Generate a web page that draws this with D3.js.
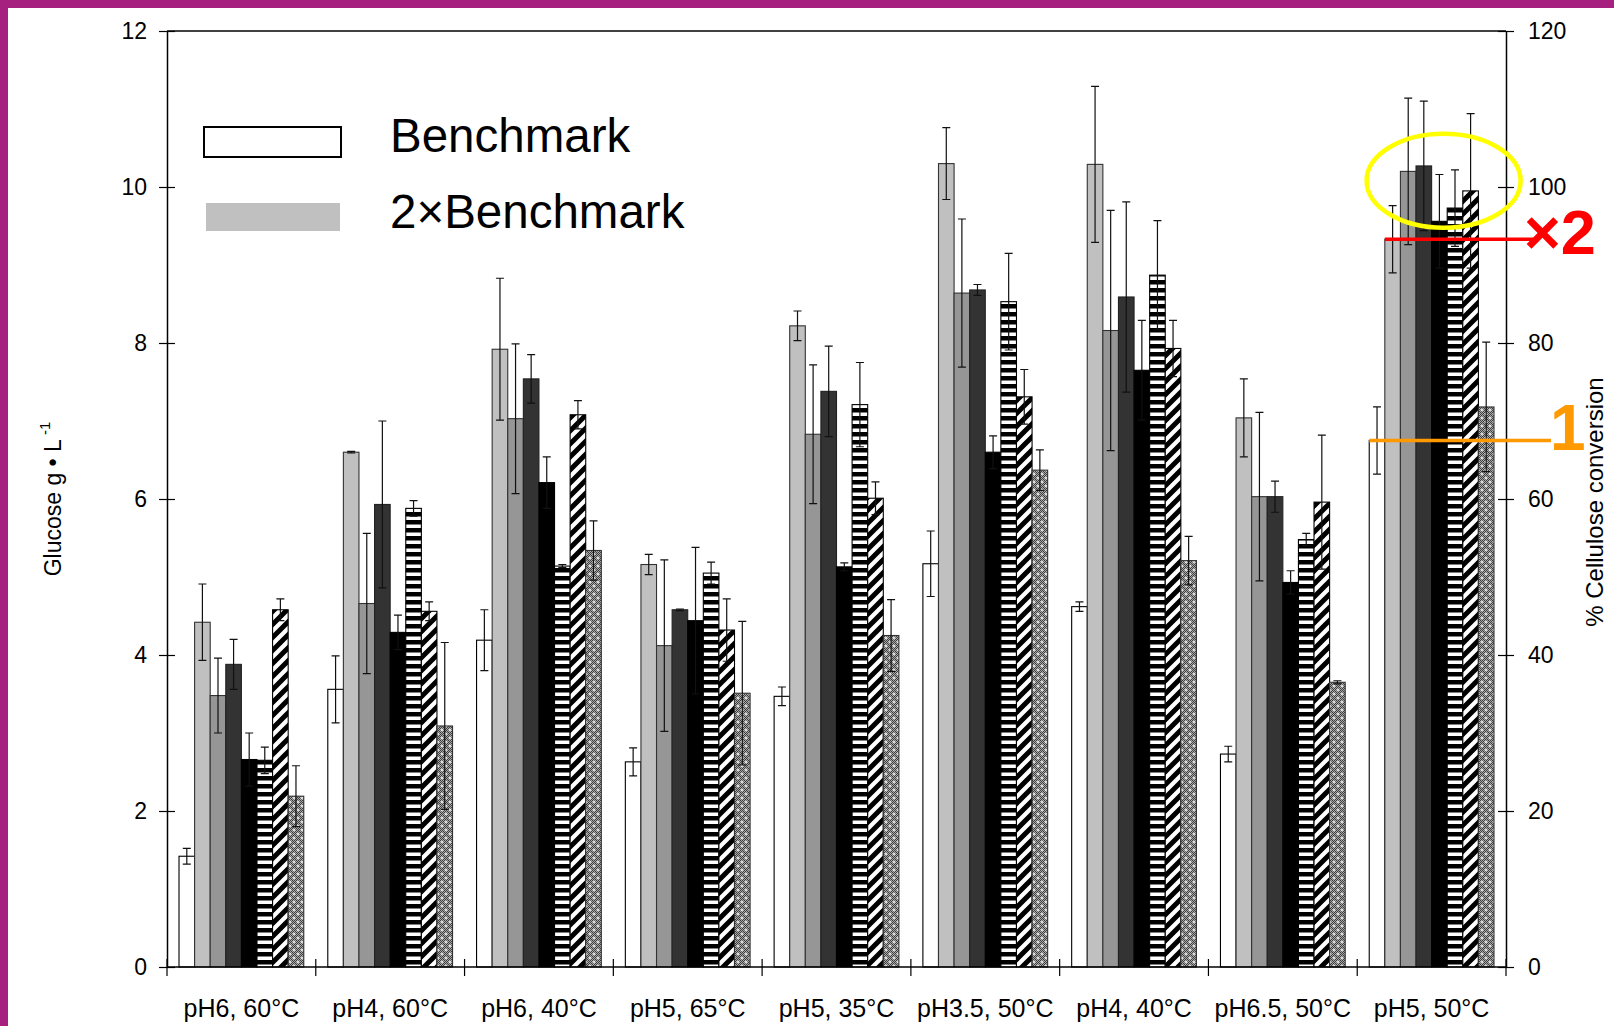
<!DOCTYPE html>
<html>
<head>
<meta charset="utf-8">
<script src="https://cdn.jsdelivr.net/npm/d3@7"></script>
<style>
  body { margin: 0; background: #fff; }
  svg { display: block; }
  text { font-family: "Liberation Sans", Arial, Helvetica, sans-serif; }
</style>
</head>
<body>
<svg id="chart" width="1614" height="1026"></svg>
<script>
// ---- data: glucose (g/L) per enzyme preparation and hydrolysis condition ----
const categories = ["pH6, 60°C", "pH4, 60°C", "pH6, 40°C", "pH5, 65°C", "pH5, 35°C",
                    "pH3.5, 50°C", "pH4, 40°C", "pH6.5, 50°C", "pH5, 50°C"];

const benchmark       = [1.42, 3.56, 4.19, 2.63, 3.47, 5.17, 4.62, 2.73, 6.75];
const benchmarkErr    = [0.10, 0.43, 0.39, 0.18, 0.12, 0.42, 0.06, 0.10, 0.43];
const benchmark2x     = [4.42, 6.60, 7.92, 5.16, 8.22, 10.30, 10.29, 7.04, 9.33];
const benchmark2xErr  = [0.49, 0.01, 0.91, 0.13, 0.19, 0.46, 1.00, 0.50, 0.43];
const mixA            = [3.48, 4.66, 7.03, 4.12, 6.83, 8.64, 8.16, 6.03, 10.20];
const mixAErr         = [0.48, 0.90, 0.96, 1.10, 0.89, 0.95, 1.54, 1.08, 0.94];
const mixB            = [3.88, 5.93, 7.54, 4.58, 7.38, 8.68, 8.59, 6.03, 10.27];
const mixBErr         = [0.32, 1.07, 0.31, 0.01, 0.58, 0.07, 1.22, 0.20, 0.83];
const mixC            = [2.66, 4.29, 6.21, 4.44, 5.13, 6.60, 7.65, 4.93, 9.56];
const mixCErr         = [0.34, 0.22, 0.33, 0.94, 0.05, 0.21, 0.64, 0.15, 0.60];
const mixD            = [2.65, 5.88, 5.14, 5.05, 7.21, 8.53, 8.87, 5.48, 9.73];
const mixDErr         = [0.17, 0.10, 0.02, 0.14, 0.54, 0.62, 0.70, 0.08, 0.49];
const mixE            = [4.58, 4.56, 7.08, 4.32, 6.01, 7.31, 7.93, 5.96, 9.95];
const mixEErr         = [0.14, 0.12, 0.18, 0.40, 0.21, 0.35, 0.36, 0.86, 0.99];
const mixF            = [2.19, 3.09, 5.34, 3.51, 4.25, 6.37, 5.21, 3.65, 7.18];
const mixFErr         = [0.39, 1.07, 0.38, 0.92, 0.46, 0.26, 0.31, 0.02, 0.83];

const glucoseTicks    = [0, 2, 4, 6, 8, 10, 12];
const conversionTicks = [0, 20, 40, 60, 80, 100, 120];
const legendLabels    = ["Benchmark", "2×Benchmark"];

// ---- build series table ----
const seriesValues = [benchmark, benchmark2x, mixA, mixB, mixC, mixD, mixE, mixF];
const seriesErrors = [benchmarkErr, benchmark2xErr, mixAErr, mixBErr, mixCErr, mixDErr, mixEErr, mixFErr];
const seriesFills  = ["#ffffff", "#c0c0c0", "#969696", "#333333", "#000000",
                      "url(#hstripe)", "url(#diag)", "url(#speckle)"];
const seriesStroke = ["#000", "#333", "#333", "#222", "#000", "#000", "#000", "#333"];

const rows = [];
categories.forEach((c, ci) => {
  seriesValues.forEach((vals, si) => {
    rows.push({ cat: c, s: si, v: vals[ci], e: seriesErrors[si][ci] });
  });
});

// ---- geometry ----
const L = 167, R = 1506, T = 31, B = 967;
const svg = d3.select("#chart");

const x0 = d3.scaleBand().domain(categories).range([L, R]).padding(0);
const x1 = d3.scaleBand().domain(d3.range(seriesValues.length))
  .range([0, x0.bandwidth()]).paddingInner(0).paddingOuter(0.77);
const y  = d3.scaleLinear().domain([0, 12]).range([B, T]);
const yR = d3.scaleLinear().domain([0, 120]).range([B, T]);

// ---- fill patterns ----
const defs = svg.append("defs");
const hs = defs.append("pattern").attr("id", "hstripe")
  .attr("patternUnits", "userSpaceOnUse").attr("width", 8).attr("height", 8);
hs.append("rect").attr("width", 8).attr("height", 8).attr("fill", "#fff");
hs.append("rect").attr("y", 0).attr("width", 8).attr("height", 4.5).attr("fill", "#000");

const dg = defs.append("pattern").attr("id", "diag")
  .attr("patternUnits", "userSpaceOnUse").attr("width", 13).attr("height", 13);
dg.append("rect").attr("width", 13).attr("height", 13).attr("fill", "#fff");
dg.append("path").attr("d", "M-3,3 L3,-3 M0,13 L13,0 M10,16 L16,10")
  .attr("stroke", "#000").attr("stroke-width", 5);

const fine = defs.append("pattern").attr("id", "fine")
  .attr("patternUnits", "userSpaceOnUse").attr("width", 2).attr("height", 2);
fine.append("rect").attr("width", 2).attr("height", 2).attr("fill", "#a8a8a8");
fine.append("rect").attr("width", 1).attr("height", 1).attr("fill", "#3c3c3c");
fine.append("rect").attr("x", 1).attr("y", 1).attr("width", 1).attr("height", 1).attr("fill", "#3c3c3c");

const sp = defs.append("pattern").attr("id", "speckle")
  .attr("patternUnits", "userSpaceOnUse").attr("width", 8).attr("height", 8);
sp.append("rect").attr("width", 8).attr("height", 8).attr("fill", "url(#fine)");
[[2, 2], [6, 6]].forEach(([cx, cy]) => {
  sp.append("path").attr("d", `M${cx - 1.5},${cy} h3 M${cx},${cy - 1.5} v3`)
    .attr("stroke", "#fff").attr("stroke-width", 1);
});

// ---- frame border ----
svg.append("rect").attr("x", 0).attr("y", 0).attr("width", 1614).attr("height", 8).attr("fill", "#a6217f");
svg.append("rect").attr("x", 0).attr("y", 0).attr("width", 8).attr("height", 1026).attr("fill", "#a6217f");

// ---- bars ----
const barG = svg.append("g");
barG.selectAll("rect").data(rows).join("rect")
  .attr("x", d => x0(d.cat) + x1(d.s))
  .attr("y", d => y(d.v))
  .attr("width", x1.bandwidth())
  .attr("height", d => y(0) - y(d.v))
  .attr("fill", d => seriesFills[d.s])
  .attr("stroke", d => seriesStroke[d.s])
  .attr("stroke-width", 1.1);

// ---- error bars ----
const cap = 4;
const errG = svg.append("g").attr("stroke", "#111").attr("stroke-width", 1.2).attr("fill", "none");
errG.selectAll("path").data(rows).join("path")
  .attr("d", d => {
    const cx = x0(d.cat) + x1(d.s) + x1.bandwidth() / 2;
    const y1 = y(d.v + d.e), y2 = y(Math.max(0, d.v - d.e));
    return `M${cx},${y1}V${y2}M${cx - cap},${y1}h${2 * cap}M${cx - cap},${y2}h${2 * cap}`;
  });

// ---- axes ----
const fontTick = "23px";
const left = svg.append("g").attr("transform", `translate(${L},0)`)
  .call(d3.axisLeft(y).tickValues(glucoseTicks).tickSizeInner(8).tickSizeOuter(0).tickPadding(12));
left.selectAll(".tick line").attr("x1", 8).attr("stroke-width", 1.2);
left.selectAll(".tick text").attr("font-size", fontTick).attr("font-family", null);
left.select(".domain").attr("stroke-width", 1.5);

const right = svg.append("g").attr("transform", `translate(${R},0)`)
  .call(d3.axisRight(yR).tickValues(conversionTicks).tickSizeInner(8).tickSizeOuter(0).tickPadding(14));
right.selectAll(".tick line").attr("x1", -8).attr("stroke-width", 1.2);
right.selectAll(".tick text").attr("font-size", fontTick).attr("font-family", null);
right.select(".domain").attr("stroke-width", 1.5);

// top and bottom frame lines
svg.append("line").attr("x1", L).attr("x2", R).attr("y1", T).attr("y2", T)
  .attr("stroke", "#000").attr("stroke-width", 1.3);
svg.append("line").attr("x1", L).attr("x2", R).attr("y1", B).attr("y2", B)
  .attr("stroke", "#000").attr("stroke-width", 1.5);

// category boundary ticks
const bounds = categories.map(c => x0(c)).concat([x0.range()[1]]);
svg.append("g").selectAll("line").data(bounds).join("line")
  .attr("x1", d => d).attr("x2", d => d).attr("y1", B - 8).attr("y2", B + 9)
  .attr("stroke", "#000").attr("stroke-width", 1.2);

const bottom = svg.append("g").attr("transform", `translate(0,${B})`)
  .call(d3.axisBottom(x0).tickSize(0).tickPadding(32));
bottom.select(".domain").remove();
bottom.selectAll(".tick text").attr("font-size", "25px").attr("font-family", null);

// axis titles
const yt = svg.append("text").attr("transform", "translate(61,499) rotate(-90)")
  .attr("text-anchor", "middle").attr("font-size", "23px");
yt.append("tspan").text("Glucose g • L");
yt.append("tspan").attr("font-size", "15px").attr("dy", -11).text(" -1");

svg.append("text").attr("transform", "translate(1603,502) rotate(-90)")
  .attr("text-anchor", "middle").attr("font-size", "24px").text("% Cellulose conversion");

// ---- legend ----
const legY = [142, 217];
svg.append("rect").attr("x", 204).attr("y", legY[0] - 15).attr("width", 137).attr("height", 30)
  .attr("fill", seriesFills[0]).attr("stroke", "#000").attr("stroke-width", 2);
svg.append("rect").attr("x", 206).attr("y", legY[1] - 14).attr("width", 134).attr("height", 28)
  .attr("fill", seriesFills[1]);
const legBase = [152, 228];
legendLabels.forEach((t, i) => {
  svg.append("text").attr("x", 390).attr("y", legBase[i]).attr("font-size", "47.5px").text(t);
});

// ---- highlight annotations on the pH5, 50°C group ----
const last = categories[categories.length - 1];
const gx = x0(last);
svg.append("ellipse")
  .attr("cx", gx + x0.bandwidth() / 2 + 12).attr("cy", y(10.08))
  .attr("rx", 77).attr("ry", 47)
  .attr("fill", "none").attr("stroke", "#ffff00").attr("stroke-width", 4.5);

const ci = categories.length - 1;
// level of the 2×Benchmark bar
svg.append("line").attr("x1", gx + x1(1)).attr("x2", 1533)
  .attr("y1", y(benchmark2x[ci])).attr("y2", y(benchmark2x[ci]))
  .attr("stroke", "#ff0000").attr("stroke-width", 3.5);
svg.append("text").attr("x", 1524).attr("y", 254).attr("font-size", "63px")
  .attr("font-weight", "bold").attr("fill", "#ff0000").text("×2");

// level of the Benchmark bar
svg.append("line").attr("x1", gx + x1(0)).attr("x2", 1551)
  .attr("y1", y(benchmark[ci])).attr("y2", y(benchmark[ci]))
  .attr("stroke", "#ff9900").attr("stroke-width", 3.5);
svg.append("text").attr("x", 1550).attr("y", 450).attr("font-size", "64px")
  .attr("font-weight", "bold").attr("fill", "#ff9900").text("1");
</script>
</body>
</html>
